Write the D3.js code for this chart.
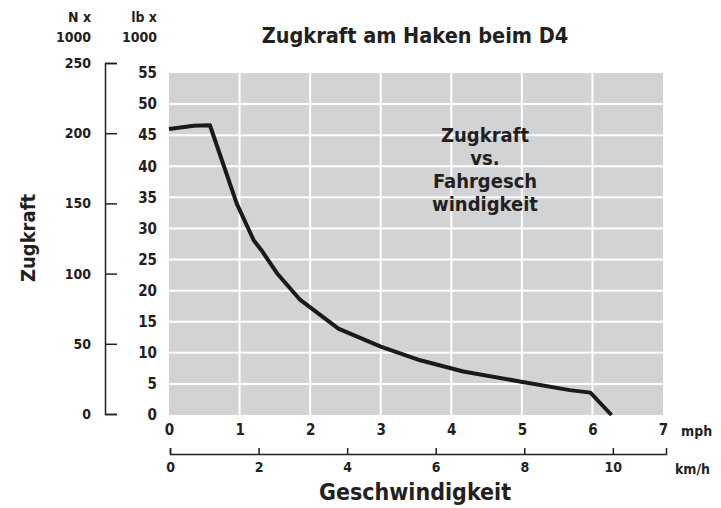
<!DOCTYPE html>
<html>
<head>
<meta charset="utf-8">
<script src="https://cdn.jsdelivr.net/npm/d3@7"></script>
<style>
  body { margin: 0; background: #fff; }
  svg text { font-family: "Liberation Sans Narrow", "DejaVu Sans Condensed", "Arial Narrow", sans-serif; font-weight: bold; fill: #231f20; }
</style>
</head>
<body>
<div id="chart"></div>
<script>
// Zugkraft am Haken (D4) - drawbar pull vs. ground speed
const speedMph = [0, 0.35, 0.58, 0.96, 1.2, 1.31, 1.53, 1.86, 2.4, 3.0, 3.56, 4.17, 4.97, 5.68, 5.97, 6.27];
const pullLb   = [46.0, 46.5, 46.6, 34.0, 28.1, 26.5, 22.8, 18.5, 13.9, 11.0, 8.8, 7.0, 5.4, 4.0, 3.6, 0];

const lbTicks  = [0, 5, 10, 15, 20, 25, 30, 35, 40, 45, 50, 55];
const nTicks   = [0, 50, 100, 150, 200, 250];
const mphTicks = [0, 1, 2, 3, 4, 5, 6, 7];
const kmhTicks = [0, 2, 4, 6, 8, 10];
const noteLines = ["Zugkraft", "vs.", "Fahrgesch", "windigkeit"];

const width = 721, height = 508;
const plot = {left: 169, right: 663, top: 73, bottom: 415};

const svg = d3.select('#chart').append('svg')
    .attr('width', width)
    .attr('height', height);

const x = d3.scaleLinear().domain([0, 7]).range([plot.left, plot.right]);
const y = d3.scaleLinear().domain([0, 55]).range([plot.bottom, plot.top]);
const yN = d3.scaleLinear().domain([0, 250]).range([414, 63]);
const xKmh = d3.scaleLinear().domain([0, 11.2]).range([170, 666]);

// grey panel
svg.append('rect')
    .attr('x', plot.left).attr('y', plot.top)
    .attr('width', plot.right - plot.left)
    .attr('height', plot.bottom - plot.top)
    .attr('fill', '#d1d3d4');

// white grid
svg.append('g').selectAll('line')
    .data(mphTicks.slice(1, -1))
    .join('line')
    .attr('x1', d => x(d)).attr('x2', d => x(d))
    .attr('y1', plot.top).attr('y2', plot.bottom)
    .attr('stroke', '#fff').attr('stroke-width', 2);

svg.append('g').selectAll('line')
    .data(lbTicks.slice(1, -1))
    .join('line')
    .attr('x1', plot.left).attr('x2', plot.right)
    .attr('y1', d => y(d)).attr('y2', d => y(d))
    .attr('stroke', '#fff').attr('stroke-width', 2);

// lb axis (labels only)
const lbAxis = svg.append('g')
    .attr('transform', `translate(${plot.left},0)`)
    .call(d3.axisLeft(y).tickValues(lbTicks).tickSize(0).tickPadding(12));
lbAxis.select('.domain').remove();
lbAxis.selectAll('text').style('font-size', '15px');

// N axis (bracket with ticks)
const nAxis = svg.append('g')
    .attr('transform', 'translate(105,0)')
    .call(d3.axisLeft(yN).tickValues(nTicks).tickSize(-12).tickPadding(14));
nAxis.selectAll('path, line').attr('stroke', '#231f20').attr('stroke-width', 1.5);
nAxis.selectAll('text').style('font-size', '14px');

// mph axis (labels only)
const mphAxis = svg.append('g')
    .attr('transform', `translate(0,${plot.bottom})`)
    .call(d3.axisBottom(x).tickValues(mphTicks).tickFormat(d3.format('d')).tickSize(0).tickPadding(9));
mphAxis.select('.domain').remove();
mphAxis.selectAll('text').style('font-size', '15px');

// km/h axis
const kmhAxis = svg.append('g')
    .attr('transform', 'translate(0,454)')
    .call(d3.axisBottom(xKmh).tickValues(kmhTicks).tickSize(-6).tickPadding(8));
kmhAxis.selectAll('path, line').attr('stroke', '#231f20').attr('stroke-width', 1.5);
kmhAxis.selectAll('text').style('font-size', '14px');

// curve
const line = d3.line()
    .x((d, i) => x(speedMph[i]))
    .y(d => y(d));

svg.append('path')
    .datum(pullLb)
    .attr('d', line)
    .attr('fill', 'none')
    .attr('stroke', '#1a1a1a')
    .attr('stroke-width', 4)
    .attr('stroke-linejoin', 'round');

// texts
svg.append('text').attr('x', 415).attr('y', 43)
    .attr('text-anchor', 'middle').style('font-size', '21.5px')
    .text('Zugkraft am Haken beim D4');

svg.append('text').attr('x', 91).attr('y', 22).attr('text-anchor', 'end').style('font-size', '14px').text('N x');
svg.append('text').attr('x', 91).attr('y', 42).attr('text-anchor', 'end').style('font-size', '14px').text('1000');
svg.append('text').attr('x', 157).attr('y', 22).attr('text-anchor', 'end').style('font-size', '14px').text('lb x');
svg.append('text').attr('x', 157).attr('y', 42).attr('text-anchor', 'end').style('font-size', '14px').text('1000');

svg.append('text').attr('x', 681).attr('y', 436).style('font-size', '14px').text('mph');
svg.append('text').attr('x', 675).attr('y', 474).style('font-size', '14px').text('km/h');

svg.append('text')
    .attr('transform', 'translate(35,238) rotate(-90)')
    .attr('text-anchor', 'middle').style('font-size', '20px')
    .text('Zugkraft');

svg.append('text').attr('x', 415).attr('y', 500)
    .attr('text-anchor', 'middle').style('font-size', '23px')
    .text('Geschwindigkeit');

svg.append('g').selectAll('text')
    .data(noteLines)
    .join('text')
    .attr('x', 485)
    .attr('y', (d, i) => 142 + i * 23)
    .attr('text-anchor', 'middle')
    .style('font-size', '20px')
    .text(d => d);
</script>
</body>
</html>
